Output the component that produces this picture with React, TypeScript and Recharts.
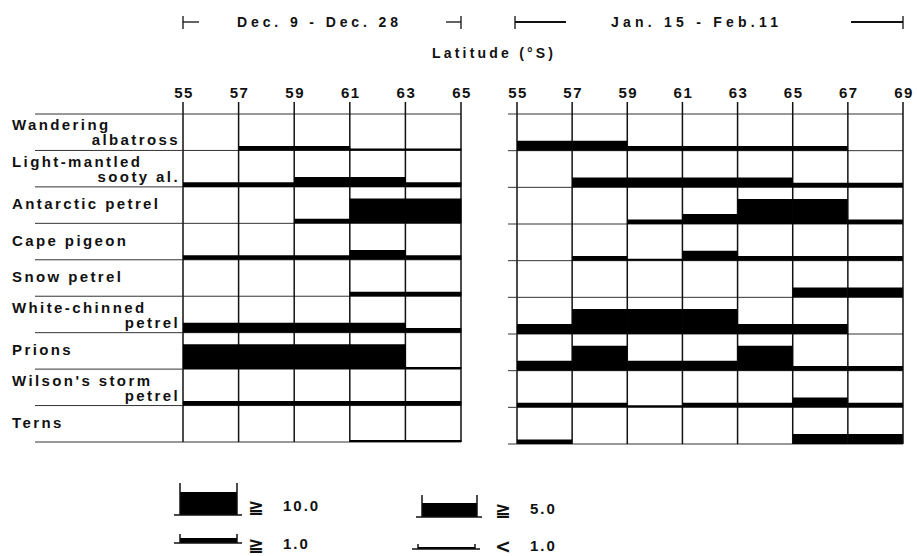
import { BarChart, Bar, XAxis, YAxis, CartesianGrid } from 'recharts';

// species (row labels, split as printed)
const species = [
  ['Wandering', 'albatross'],
  ['Light-mantled', 'sooty al.'],
  ['Antarctic petrel'],
  ['Cape pigeon'],
  ['Snow petrel'],
  ['White-chinned', 'petrel'],
  ['Prions'],
  ["Wilson's storm", 'petrel'],
  ['Terns'],
];

// latitude band edges (°S)
const decTicks = [55, 57, 59, 61, 63, 65];
const janTicks = [55, 57, 59, 61, 63, 65, 67, 69];

// abundance class per 2-degree band: 0 none, 1 <1.0, 2 >=1.0, 3 >=5.0, 4 >=10.0
const decClasses = [
  [0, 2, 2, 1, 1],
  [2, 2, 3, 3, 2],
  [0, 0, 2, 4, 4],
  [2, 2, 2, 3, 2],
  [0, 0, 0, 2, 2],
  [3, 3, 3, 3, 2],
  [4, 4, 4, 4, 1],
  [2, 2, 2, 2, 2],
  [0, 0, 0, 1, 1],
];
const janClasses = [
  [3, 3, 2, 2, 2, 2, 0],
  [0, 3, 3, 3, 3, 2, 2],
  [0, 0, 2, 3, 4, 4, 2],
  [0, 2, 1, 3, 2, 2, 2],
  [0, 0, 0, 0, 0, 3, 3],
  [3, 4, 4, 4, 3, 3, 0],
  [3, 4, 3, 3, 4, 2, 2],
  [2, 2, 1, 2, 2, 3, 2],
  [2, 0, 0, 0, 0, 3, 3],
];

const legendItems = ['\u2267 10.0', '\u2267 5.0', '\u2267 1.0', '< 1.0'];

// bar thickness of each class, as a fraction of one row
const CLASS_H = [0, 0.055, 0.125, 0.27, 0.68];
const FONT = '"Liberation Sans", Arial, sans-serif';
const INK = '#111';
const PLOT_TOP = 114;
const rowIdx = species.map((_, i) => i);
const yTicks = [0, 1, 2, 3, 4, 5, 6, 7, 8, 9];

function buildData(ticks: number[], classes: number[][]) {
  return ticks.slice(1).map((hi, j) => {
    const d: any = { bin: `${ticks[j]}-${hi}` };
    classes.forEach((row, i) => {
      const h = CLASS_H[row[j]];
      d['b' + i] = h;
      d['g' + i] = 1 - h;
    });
    return d;
  });
}

// row boundary lines reaching into the label column, plus the species names
function makeRowTick(lineFrom: number, lineTo: number, labels: boolean) {
  return (props: any) => {
    const { y, payload } = props;
    const v = payload.value;
    const line = <line x1={lineFrom} x2={lineTo} y1={y} y2={y} stroke="#333" strokeWidth={1} />;
    if (!labels || v === 9) return <g>{line}</g>;
    const lines = species[8 - v];
    const txt = { fontFamily: FONT, fontWeight: 700, fontSize: 15, letterSpacing: 2.4, fill: INK };
    return (
      <g>
        {line}
        {lines.length === 1 ? (
          <text x={12} y={y - 14} {...txt}>{lines[0]}</text>
        ) : (
          <>
            <text x={12} y={y - 20} {...txt}>{lines[0]}</text>
            <text x={180} y={y - 5} textAnchor="end" {...txt}>{lines[1]}</text>
          </>
        )}
      </g>
    );
  };
}

// latitude labels sit on the band edges, not the band centres
function makeLatTick(ticks: number[], bandW: number) {
  return (props: any) => {
    const { x, index } = props;
    const edges = index === ticks.length - 2 ? [index, index + 1] : [index];
    return (
      <g>
        {edges.map((k) => {
          const ex = x + (k - index - 0.5) * bandW;
          return (
            <g key={k}>
              <line x1={ex} x2={ex} y1={PLOT_TOP - 12} y2={PLOT_TOP} stroke={INK} strokeWidth={1.5} />
              <text x={ex + 1} y={PLOT_TOP - 16} textAnchor="middle" fontFamily={FONT} fontWeight={700}
                    fontSize={15} letterSpacing={1.5} fill={INK}>{ticks[k]}</text>
            </g>
          );
        })}
      </g>
    );
  };
}

function Panel({ ticks, classes, width, height, right, axisW, lineFrom, labels }: any) {
  const data = buildData(ticks, classes);
  const order = [...rowIdx].reverse();
  const bandW = (width - axisW - right) / data.length;
  return (
    <BarChart width={width} height={height} data={data} barCategoryGap={0} barGap={0}
              margin={{ top: 84, right, bottom: 8, left: 0 }}>
      <XAxis dataKey="bin" type="category" orientation="top" height={30} interval={0}
             axisLine={false} tickLine={false} tick={makeLatTick(ticks, bandW)} />
      <YAxis type="number" domain={[0, 9]} ticks={yTicks} interval={0} allowDataOverflow width={axisW}
             axisLine={false} tickLine={false} tick={makeRowTick(lineFrom, axisW, labels)} />
      <CartesianGrid vertical={false} stroke="#333" strokeWidth={1} />
      <CartesianGrid horizontal={false} stroke={INK} strokeWidth={1.5}
                     verticalCoordinatesGenerator={({ offset }: any) =>
                       ticks.map((_: number, k: number) => offset.left + (k * offset.width) / (ticks.length - 1))} />
      {order.map((i) => [
        <Bar key={'b' + i} dataKey={'b' + i} stackId="s" fill="#000" isAnimationActive={false} />,
        <Bar key={'g' + i} dataKey={'g' + i} stackId="s" fill="transparent" isAnimationActive={false} />,
      ])}
    </BarChart>
  );
}

function Header() {
  const t = { fontFamily: FONT, fontWeight: 700, fontSize: 14, fill: INK };
  return (
    <svg width={917} height={70} style={{ position: 'absolute', left: 0, top: 0 }}>
      <g stroke={INK} strokeWidth={1.3}>
        <line x1={183} x2={183} y1={16} y2={29} />
        <line x1={183} x2={199} y1={22} y2={22} />
        <line x1={446} x2={461} y1={22} y2={22} />
        <line x1={461} x2={461} y1={16} y2={29} />
        <line x1={515} x2={515} y1={16} y2={29} />
        <line x1={515} x2={566} y1={22} y2={22} strokeWidth={1.8} />
        <line x1={851} x2={903} y1={22} y2={22} strokeWidth={1.8} />
        <line x1={903} x2={903} y1={16} y2={29} />
      </g>
      <text x={237} y={27} textLength={161} lengthAdjust="spacing" {...t}>Dec. 9 - Dec. 28</text>
      <text x={611} y={27} textLength={167} lengthAdjust="spacing" {...t}>Jan. 15 - Feb.11</text>
      <text x={432} y={58} textLength={121} lengthAdjust="spacing" {...t}>Latitude (°S)</text>
    </svg>
  );
}

function Legend() {
  // symbol geometry for each class in the key
  const syms = [
    { x: 180, w: 57, top: 492, base: 515, tick: 483, tx: 248, ty: 513 },
    { x: 422, w: 55, top: 503, base: 517, tick: 495, tx: 495, ty: 516 },
    { x: 180, w: 57, top: 538, base: 543, tick: 534, tx: 248, ty: 551 },
    { x: 418, w: 57, top: 547, base: 549, tick: 544, tx: 495, ty: 553 },
  ];
  return (
    <svg width={917} height={556} style={{ position: 'absolute', left: 0, top: 0, pointerEvents: 'none' }}>
      {syms.map((s, i) => {
        const [sym, num] = legendItems[i].split(' ');
        return (
          <g key={i}>
            <rect x={s.x} y={s.top} width={s.w} height={s.base - s.top} fill="#000" />
            <line x1={s.x - 6} x2={s.x + s.w + 5} y1={s.base} y2={s.base} stroke={INK} strokeWidth={1.5} />
            <line x1={s.x} x2={s.x} y1={s.tick} y2={s.base} stroke={INK} strokeWidth={1.5} />
            <line x1={s.x + s.w} x2={s.x + s.w} y1={s.tick} y2={s.base} stroke={INK} strokeWidth={1.5} />
            <text x={s.tx} y={s.ty} fontFamily='"DejaVu Sans", sans-serif' fontWeight={700} fontSize={19} fill={INK}>{sym}</text>
            <text x={s.tx + 35} y={s.ty - 2} fontFamily={FONT} fontWeight={700} fontSize={15} letterSpacing={2} fill={INK}>{num}</text>
          </g>
        );
      })}
    </svg>
  );
}

export default function App() {
  return (
    <div style={{ position: 'absolute', left: 0, top: 0, width: 917, height: 556, background: '#fff' }}>
      <Header />
      <div style={{ position: 'absolute', left: 0, top: 0 }}>
        <Panel ticks={decTicks} classes={decClasses} width={480} height={450}
               right={19} axisW={183} lineFrom={35} labels />
      </div>
      <div style={{ position: 'absolute', left: 470, top: 0 }}>
        <Panel ticks={janTicks} classes={janClasses} width={447} height={452}
               right={14} axisW={47} lineFrom={38} labels={false} />
      </div>
      <Legend />
    </div>
  );
}
